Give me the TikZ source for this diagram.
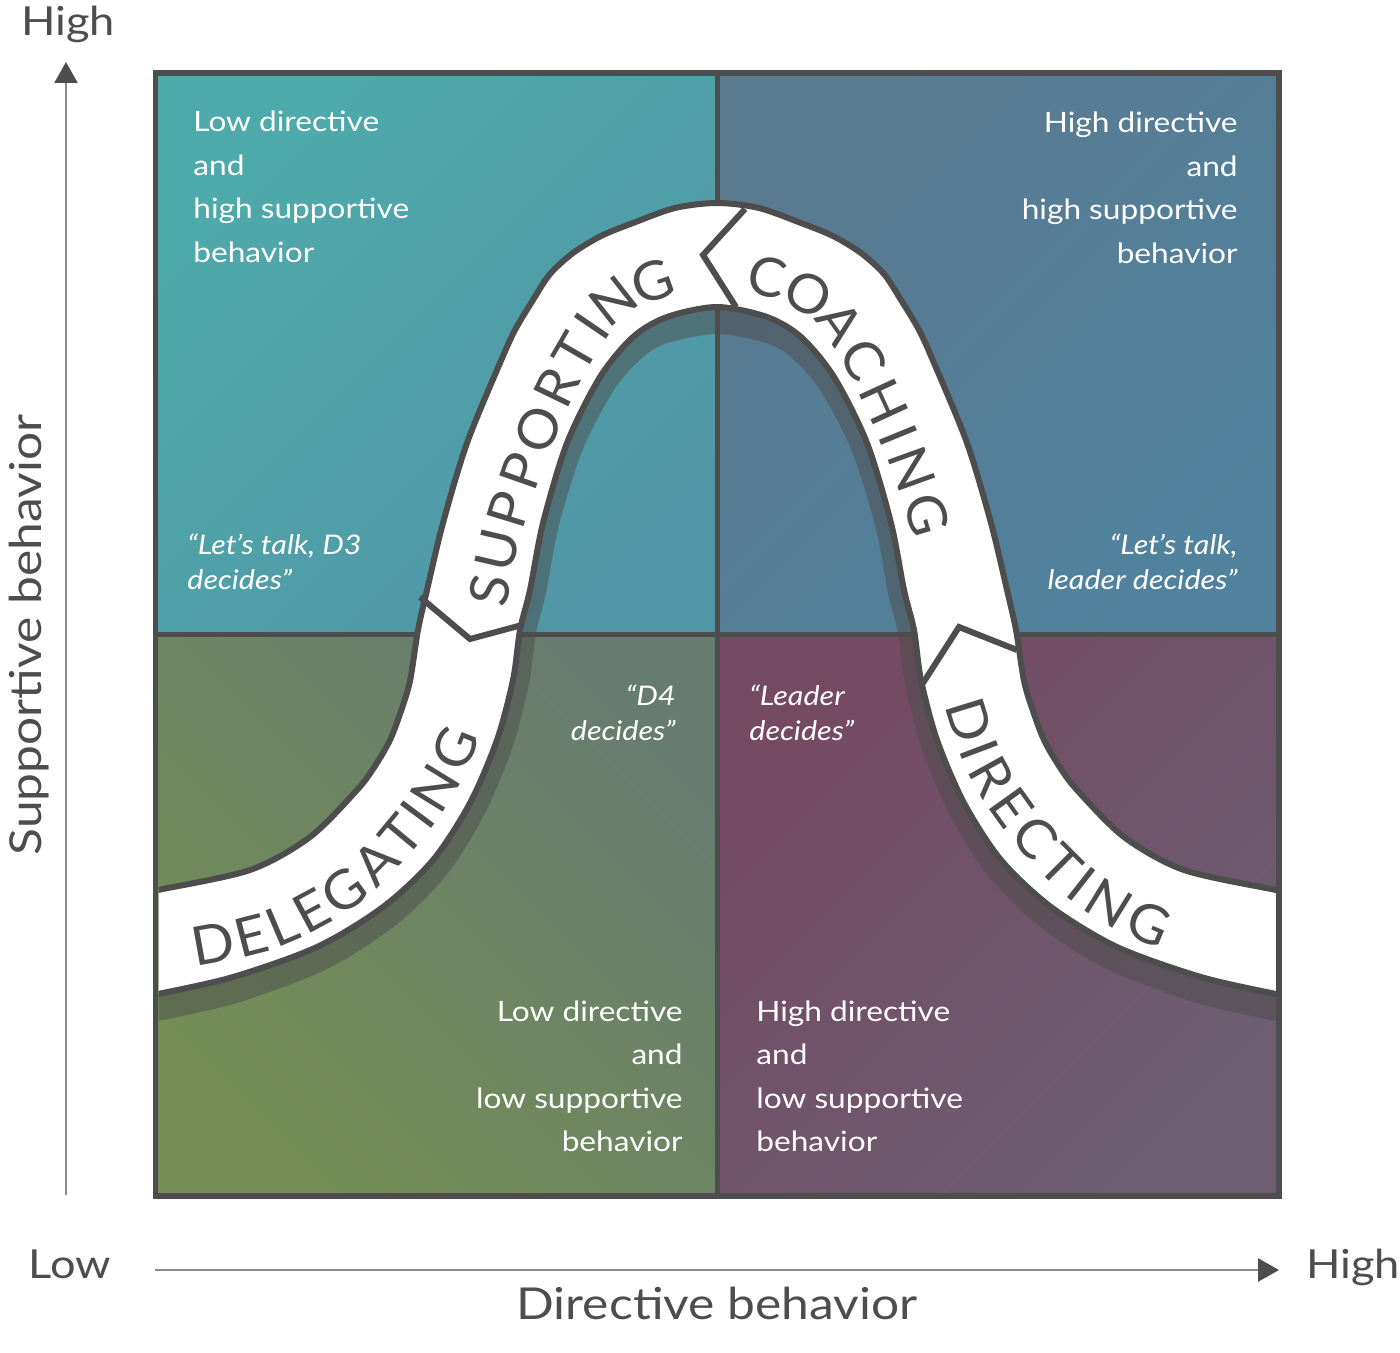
\documentclass[tikz,border=0pt]{standalone}
\usepackage{fontspec}
\setmainfont{Lato}[FakeStretch=1.13]
\newfontfamily\bandfam{Lato}[FakeStretch=1.04]
\usetikzlibrary{arrows.meta,decorations.markings}
\definecolor{dk}{HTML}{4D4D4D}
\definecolor{axgray}{HTML}{8A8A8A}
\definecolor{tlA}{HTML}{4EAAAA}
\definecolor{tlB}{HTML}{5196A6}
\definecolor{trA}{HTML}{5A7A90}
\definecolor{trB}{HTML}{50829D}
\definecolor{blA}{HTML}{748E55}
\definecolor{blB}{HTML}{677C70}
\definecolor{brA}{HTML}{744A62}
\definecolor{brB}{HTML}{6D5E72}
\newcommand{\bandfont}{\bandfam\fontsize{27}{27}\selectfont}
\tikzset{
  qtext/.style={text=white, font=\fontsize{14}{17}\selectfont, inner sep=0pt},
  itext/.style={text=white, font=\fontsize{13.5}{16}\selectfont\itshape, inner sep=0pt},
  axlabel/.style={text=dk, font=\fontsize{20}{24}\selectfont, inner sep=0pt},
  axtitle/.style={text=dk, font=\fontsize{22}{26}\selectfont, inner sep=0pt},
  axisline/.style={draw=axgray, line width=1.25pt, -{Triangle[length=10.5pt,width=11.5pt,color=dk]}},
  divider/.style={draw=dk, line width=3pt, line join=miter},
  bandletter/.style={transform shape, text=dk, font=\bandfont, inner sep=0pt, anchor=center},
  /pgf/decoration/lt/.style 2 args={mark=at position #1pt with {\node[bandletter] at (0pt,-6pt) {#2};}}
}
\begin{document}
\begin{tikzpicture}[x=0.5pt,y=-0.5pt]
\useasboundingbox (0,0) rectangle (1400,1352);
% quadrants
\shade[top color=tlA, bottom color=tlB, shading angle=45] (155.5,73) rectangle (717,634);
\shade[top color=trA, bottom color=trB, shading angle=45] (717,73) rectangle (1279,634);
\shade[top color=blB, bottom color=blA, shading angle=-45] (155.5,634) rectangle (717,1196);
\shade[top color=brA, bottom color=brB, shading angle=45] (717,634) rectangle (1279,1196);
% cross lines
\draw[dk, line width=2.5pt] (717,73) -- (717,1196);
\draw[dk, line width=2.5pt] (155.5,634) -- (1279,634);
% band
\begin{scope}
\clip (158.5,76) rectangle (1276,1193);
\fill[dk, opacity=0.5]
  plot[smooth,tension=0.5] coordinates {(140,894) (158,890) (250,870) (310,837) (357,790) (375,766) (390,740) (401,711) (410,681) (418,630) (427,590) (443,523) (467,443) (500,363) (515,330) (533,300) (550,274) (573,253) (601,236) (633,223) (675,208) (717,203) (759,208) (801,223) (833,236) (861,253) (884,274) (901,300) (919,330) (934,363) (967,443) (991,523) (1007,590) (1016,630) (1024,681) (1033,711) (1044,740) (1059,766) (1077,790) (1124,837) (1184,870) (1276,890) (1294,894)}
  -- plot[smooth,tension=0.5] coordinates {(1294,1024) (1276,1021) (1197,1003) (1107,969) (1038,925) (986,873) (948,811) (921,746) (905,683) (898,633) (888,593) (875.5,527) (851,449) (818,387) (786,353) (759,341) (717,334) (675,341) (648,353) (616,387) (583,449) (558.5,527) (546,593) (536,633) (529,683) (513,746) (486,811) (448,873) (396,925) (327,969) (237,1003) (158,1021) (140,1024)}
  -- cycle;
\filldraw[fill=white, draw=dk, line width=3pt]
  plot[smooth,tension=0.5] coordinates {(140,894) (158,890) (250,870) (310,837) (357,790) (375,766) (390,740) (401,711) (410,681) (418,630) (427,590) (443,523) (467,443) (500,363) (515,330) (533,300) (550,274) (573,253) (601,236) (633,223) (675,208) (717,203) (759,208) (801,223) (833,236) (861,253) (884,274) (901,300) (919,330) (934,363) (967,443) (991,523) (1007,590) (1016,630) (1024,681) (1033,711) (1044,740) (1059,766) (1077,790) (1124,837) (1184,870) (1276,890) (1294,894)}
  -- plot[smooth,tension=0.5] coordinates {(1294,997) (1276,994) (1201,977) (1117,947) (1051,907) (1001,860) (964,803) (937,740) (921,680) (914,630) (904,590) (891,523) (867,443) (834,377) (801,337) (767,317) (717,307) (667,317) (633,337) (600,377) (567,443) (543,523) (530,590) (520,630) (513,680) (497,740) (470,803) (433,860) (383,907) (317,947) (233,977) (158,994) (140,997)}
  -- cycle;
\end{scope}
% dividers
\draw[divider] (745,209) -- (703,255) -- (736,307);
\draw[divider] (420,597) -- (470,639) -- (522,625);
\draw[divider] (923,683) -- (959,627) -- (1017,650);
% band words
\path[decorate, decoration={markings,
  lt={9.75}{D}, lt={28.6}{E}, lt={44.2}{L}, lt={59.8}{E}, lt={78.45}{G},
  lt={98.55}{A}, lt={116.6}{T}, lt={129.5}{I}, lt={144.9}{N}, lt={166.0}{G}}]
  plot[smooth,tension=0.6] coordinates {(191.8,934.9) (267,918) (341,878) (396,822) (436,762) (458,700) (470,633)};
\path[decorate, decoration={markings,
  lt={6.9}{S}, lt={27.75}{U}, lt={49.4}{P}, lt={69.55}{P}, lt={92.4}{O},
  lt={115.65}{R}, lt={135.95}{T}, lt={151.95}{I}, lt={170.3}{N}, lt={194.45}{G}}]
  plot[smooth,tension=0.6] coordinates {(476,602) (488,540) (513,460) (544,386) (576,328) (606,292) (650,270) (717,254) (784,270)};
\path[decorate, decoration={markings,
  lt={8.98}{C}, lt={33.2}{O}, lt={57.3}{A}, lt={79.98}{C}, lt={103.68}{H},
  lt={122.18}{I}, lt={140.68}{N}, lt={164.95}{G}}]
  plot[smooth,tension=0.6] coordinates {(752,262.4) (784,270) (828,292) (858,328) (890,386) (921,460) (946,540) (964,633)};
\path[decorate, decoration={markings,
  lt={9.75}{D}, lt={25.35}{I}, lt={39.33}{R}, lt={56.93}{E}, lt={75.38}{C},
  lt={93.9}{T}, lt={107.23}{I}, lt={122.95}{N}, lt={144.45}{G}}]
  plot[smooth,tension=0.6] coordinates {(975.5,697.5) (998,762) (1038,822) (1093,878) (1167,918) (1265,940) (1294,946)};
% frame
\draw[dk, line width=2.75pt] (155.5,73) rectangle (1279,1196);
% quadrant texts
\node[qtext, anchor=base west] (tl1) at (193,132) {Low directive};
\node[qtext, anchor=base west] (tl2) at (193,175.5) {and};
\node[qtext, anchor=base west] (tl3) at (193,219) {high supportive};
\node[qtext, anchor=base west] (tl4) at (193,262.5) {behavior};
\node[qtext, anchor=base east] (tr1) at (1238,133) {High directive};
\node[qtext, anchor=base east] (tr2) at (1238,176.5) {and};
\node[qtext, anchor=base east] (tr3) at (1238,220) {high supportive};
\node[qtext, anchor=base east] (tr4) at (1238,263.5) {behavior};
\node[qtext, anchor=base east] (bl1) at (683,1021) {Low directive};
\node[qtext, anchor=base east] (bl2) at (683,1064.5) {and};
\node[qtext, anchor=base east] (bl3) at (683,1108) {low supportive};
\node[qtext, anchor=base east] (bl4) at (683,1151.5) {behavior};
\node[qtext, anchor=base west] (br1) at (756,1021) {High directive};
\node[qtext, anchor=base west] (br2) at (756,1064.5) {and};
\node[qtext, anchor=base west] (br3) at (756,1108) {low supportive};
\node[qtext, anchor=base west] (br4) at (756,1151.5) {behavior};
% quotes
\node[itext, anchor=base west] (q1a) at (187,554) {“Let’s talk, D3};
\node[itext, anchor=base west] (q1b) at (187,589) {decides”};
\node[itext, anchor=base east] (q2a) at (1238,554) {“Let’s talk,};
\node[itext, anchor=base east] (q2b) at (1238,589) {leader decides”};
\node[itext, anchor=base east] (q3a) at (676,705) {“D4};
\node[itext, anchor=base east] (q3b) at (676,740) {decides”};
\node[itext, anchor=base west] (q4a) at (749,705) {“Leader};
\node[itext, anchor=base west] (q4b) at (749,740) {decides”};
% axes
\coordinate (ys) at (66,1195);
\coordinate (ye) at (66,62);
\coordinate (xs) at (155,1270);
\coordinate (xe) at (1279,1270);
\draw[axisline] (ys) -- (ye);
\draw[axisline] (xs) -- (xe);
\node[axlabel, anchor=base] (yhigh) at (68,36) {High};
\node[axlabel, anchor=base] (xlow) at (70,1278) {Low};
\node[axlabel, anchor=base] (xhigh) at (1353,1278) {High};
\node[axtitle, anchor=base] (xtitle) at (717,1319) {Directive behavior};
\node[axtitle, anchor=base, rotate=90] (ytitle) at (41,635) {Supportive behavior};
\end{tikzpicture}
\end{document}
